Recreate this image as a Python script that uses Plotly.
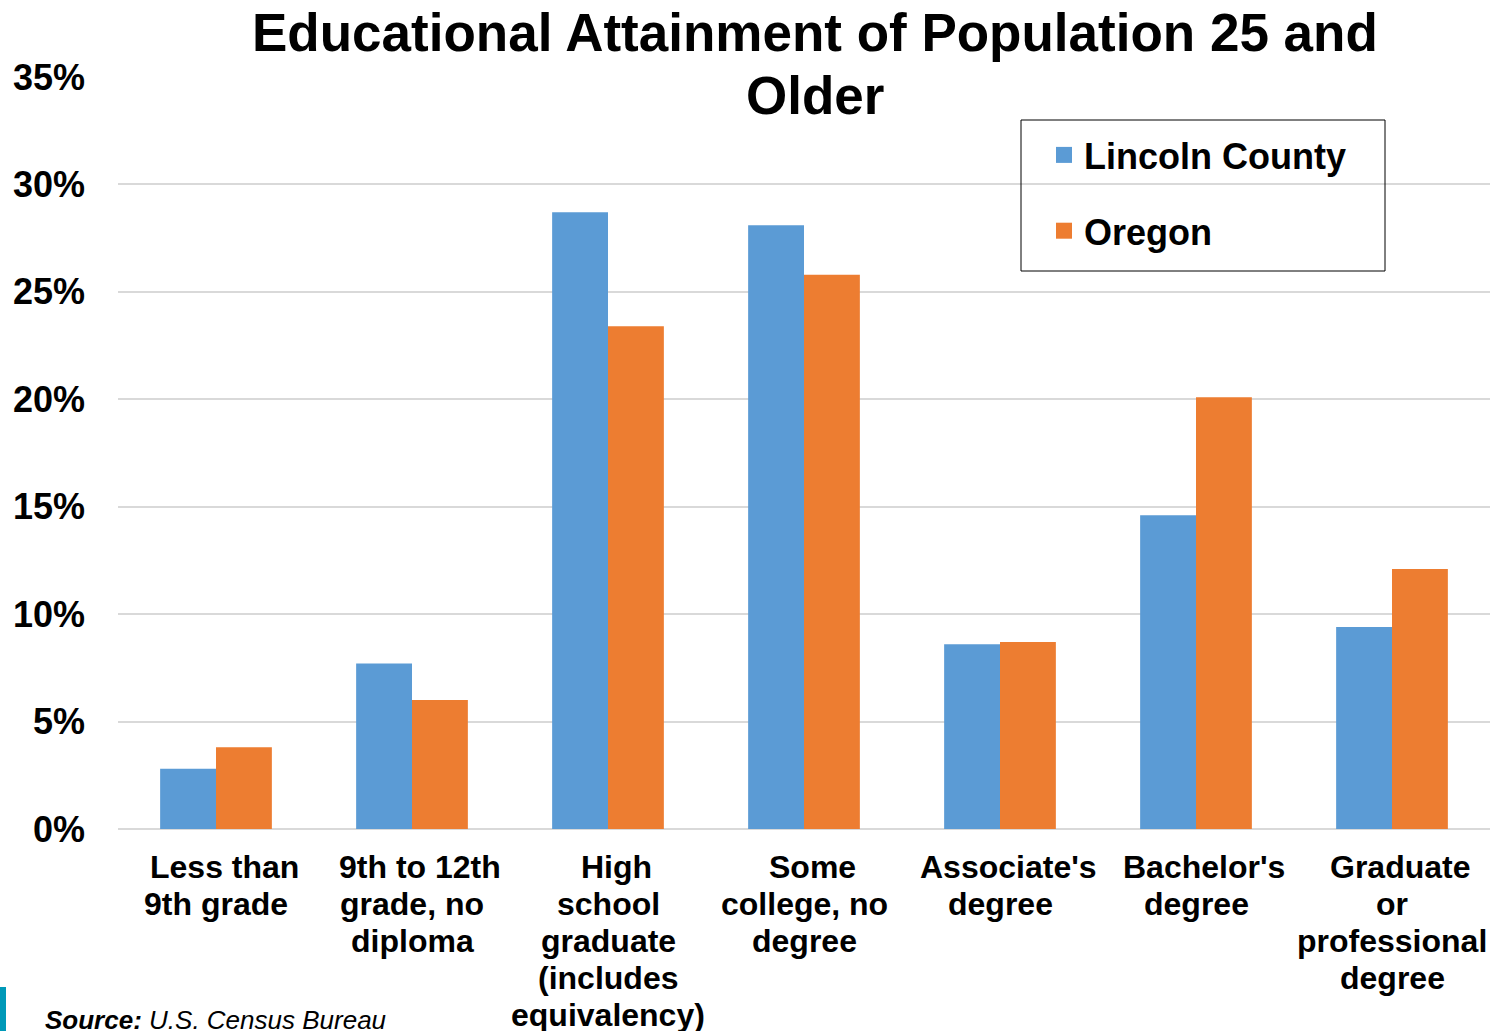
import plotly.graph_objects as go

categories = [
    "Less than<br>9th grade",
    "9th to 12th<br>grade, no<br>diploma",
    "High<br>school<br>graduate<br>(includes<br>equivalency)",
    "Some<br>college, no<br>degree",
    "Associate's<br>degree",
    "Bachelor's<br>degree",
    "Graduate<br>or<br>professional<br>degree",
]
lincoln = [2.8, 7.7, 28.7, 28.1, 8.6, 14.6, 9.4]
oregon = [3.8, 6.0, 23.4, 25.8, 8.7, 20.1, 12.1]
series_names = ["Lincoln County", "Oregon"]
series_colors = ["#5B9BD5", "#ED7D31"]
tick_vals = [0, 5, 10, 15, 20, 25, 30, 35]
tick_text = ["0%", "5%", "10%", "15%", "20%", "25%", "30%", "35%"]

W, H = 1490, 1031
L, R, T, B = 118, 0, 77, 202
PW, PH = W - L - R, H - T - B


def px(xp):
    return (xp - L) / PW


def py(yp):
    return (H - B - yp) / PH


font_family = "Liberation Sans, Arial, sans-serif"

fig = go.Figure()
for name, vals, col in zip(series_names, [lincoln, oregon], series_colors):
    fig.add_trace(go.Bar(name=name, x=categories, y=vals,
                         marker=dict(color=col, line=dict(width=0)),
                         showlegend=False))
# legend entries (square markers)
for i, (name, col) in enumerate(zip(series_names, series_colors)):
    fig.add_trace(go.Scatter(name=name, x=[None], y=[None], mode="markers",
                             marker=dict(symbol="square", size=16, color=col,
                                         line=dict(width=0)),
                             legendgroup=str(i), showlegend=True))

fig.update_layout(
    width=W, height=H,
    margin=dict(l=L, r=R, t=T, b=B, autoexpand=False),
    paper_bgcolor="white", plot_bgcolor="white",
    barmode="group", bargap=0.43, bargroupgap=0,
    font=dict(family=font_family, color="black"),
    showlegend=True,
    legend=dict(
        x=px(1044), y=py(125),
        xanchor="left", yanchor="top",
        borderwidth=0, bgcolor="rgba(0,0,0,0)",
        font=dict(size=36, family=font_family, color="black", weight="bold"),
        traceorder="grouped", tracegroupgap=26,
        itemwidth=30, itemsizing="trace",
    ),
    xaxis=dict(
        showgrid=False, showline=False, zeroline=False, ticks="",
        showticklabels=False,
    ),
    yaxis=dict(
        range=[0, 35], tickvals=tick_vals, ticktext=tick_text,
        showgrid=True, gridcolor="#d9d9d9", gridwidth=2,
        zeroline=True, zerolinecolor="#d9d9d9", zerolinewidth=2,
        showline=False, ticks="",
        tickfont=dict(size=36, family=font_family, color="black", weight="bold"),
        ticklabelstandoff=32,
    ),
)

# legend frame
fig.add_shape(type="rect", xref="paper", yref="paper",
              x0=px(1021), x1=px(1385), y0=py(120), y1=py(271),
              line=dict(color="black", width=1), fillcolor="rgba(0,0,0,0)",
              layer="above")

# category labels, line by line under each category
for cat in categories:
    for j, line in enumerate(cat.split("<br>")):
        fig.add_annotation(text="<b>" + line + "</b>", xref="x", yref="paper",
                           x=cat, y=py(867 + 37 * j), xshift=8 if j == 0 else 0,
                           xanchor="center", yanchor="middle", showarrow=False,
                           font=dict(size=32, family=font_family, color="black"))

fig.add_annotation(text="<b>Educational Attainment of Population 25 and</b>",
                   xref="paper", yref="paper", x=px(815), y=py(33),
                   xanchor="center", yanchor="middle", showarrow=False,
                   font=dict(size=53, family=font_family, color="black"))
fig.add_annotation(text="<b>Older</b>",
                   xref="paper", yref="paper", x=px(815), y=py(95),
                   xanchor="center", yanchor="middle", showarrow=False,
                   font=dict(size=53, family=font_family, color="black"))

fig.add_annotation(text="<b><i>Source:</i></b><i> U.S. Census Bureau</i>",
                   xref="paper", yref="paper", x=px(43), y=py(1020),
                   xanchor="left", yanchor="middle", showarrow=False,
                   font=dict(size=26, family=font_family, color="black"))

fig.add_shape(type="rect", xref="paper", yref="paper",
              x0=px(0), x1=px(6), y0=py(987), y1=py(1031),
              fillcolor="#0099B8", line=dict(width=0))

fig.write_html("out.html", config={"displayModeBar": False},
               post_script="document.body.style.margin='0';document.body.style.overflow='hidden';")
